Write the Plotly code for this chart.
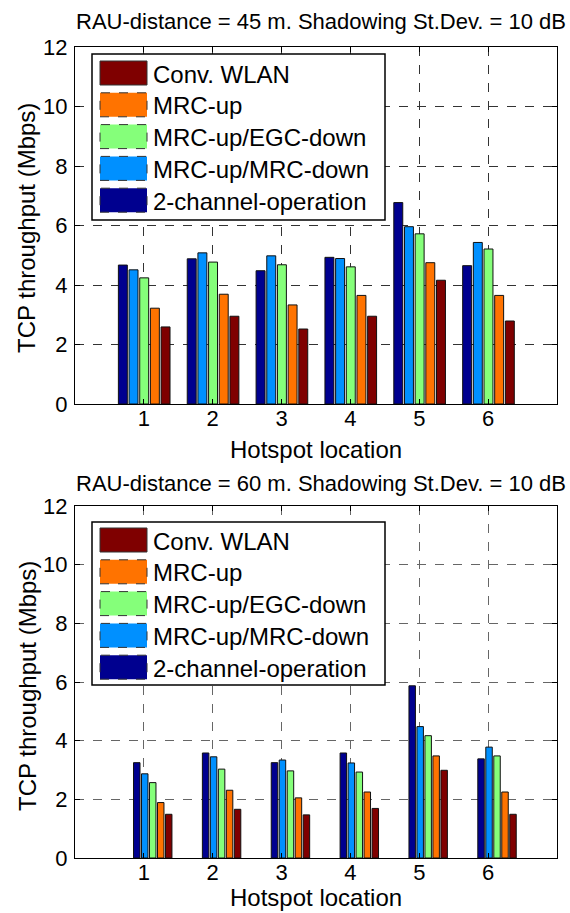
import plotly.graph_objects as go

W, H = 570, 913

locations = [1, 2, 3, 4, 5, 6]
tick_labels = ["1", "2", "3", "4", "5", "6"]

# series in plotting order (left to right within a group)
series_names = ["2-channel-operation", "MRC-up/MRC-down", "MRC-up/EGC-down", "MRC-up", "Conv. WLAN"]
series_colors = ["#00008F", "#0090FF", "#85FF7A", "#FF7300", "#7F0000"]

# RAU-distance = 45 m
two_ch_45 = [4.67, 4.88, 4.48, 4.93, 6.77, 4.65]
mrc_mrc_45 = [4.51, 5.08, 4.98, 4.89, 5.96, 5.43]
mrc_egc_45 = [4.24, 4.77, 4.68, 4.61, 5.72, 5.21]
mrc_up_45 = [3.22, 3.69, 3.33, 3.65, 4.75, 3.65]
conv_45 = [2.59, 2.95, 2.52, 2.95, 4.16, 2.79]

# RAU-distance = 60 m
two_ch_60 = [3.25, 3.58, 3.25, 3.58, 5.87, 3.38]
mrc_mrc_60 = [2.87, 3.45, 3.34, 3.24, 4.48, 3.78]
mrc_egc_60 = [2.57, 3.03, 2.97, 2.93, 4.17, 3.48]
mrc_up_60 = [1.89, 2.31, 2.05, 2.25, 3.48, 2.25]
conv_60 = [1.49, 1.66, 1.47, 1.69, 2.99, 1.49]

titles = ["RAU-distance = 45 m. Shadowing St.Dev. = 10 dB",
          "RAU-distance = 60 m. Shadowing St.Dev. = 10 dB"]
x_title = "Hotspot location"
y_title = "TCP throughput (Mbps)"
legend_order = ["Conv. WLAN", "MRC-up", "MRC-up/EGC-down", "MRC-up/MRC-down", "2-channel-operation"]

FONT = "Liberation Sans, Arial, sans-serif"


def px_x(p):
    return p / W


def px_y(p):
    return 1 - p / H


fig = go.Figure()

data_top = [two_ch_45, mrc_mrc_45, mrc_egc_45, mrc_up_45, conv_45]
data_bot = [two_ch_60, mrc_mrc_60, mrc_egc_60, mrc_up_60, conv_60]

for i, (name, col, vals) in enumerate(zip(series_names, series_colors, data_top)):
    fig.add_trace(go.Bar(x=locations, y=vals, name=name, marker=dict(color=col, line=dict(color="#111", width=1)),
                         offset=-0.37 + i * 0.155, width=0.13, xaxis="x", yaxis="y", showlegend=False))
for i, (name, col, vals) in enumerate(zip(series_names, series_colors, data_bot)):
    fig.add_trace(go.Bar(x=locations, y=vals, name=name, marker=dict(color=col, line=dict(color="#111", width=1)),
                         offset=-0.15 + i * 0.116, width=0.094, xaxis="x2", yaxis="y2", showlegend=False))

xdom = [px_x(75), px_x(557)]
top_dom = [px_y(404), px_y(47)]
bot_dom = [px_y(858), px_y(506)]


def xax(dom_anchor, gridcol):
    return dict(domain=xdom, anchor=dom_anchor, range=[0, 7], tickmode="array", tickvals=locations,
                ticktext=tick_labels, showline=True, linecolor="black", linewidth=1, mirror="ticks",
                ticks="inside", ticklen=5, tickcolor="black", showgrid=True, gridcolor=gridcol,
                griddash="dash", gridwidth=1, zeroline=False, automargin=False,
                tickfont=dict(family=FONT, size=22, color="black"), ticklabelstandoff=-5)


def yax(dom, anchor, gridcol):
    return dict(domain=dom, anchor=anchor, range=[0, 12], tickmode="array", tickvals=[0, 2, 4, 6, 8, 10, 12],
                showline=True, linecolor="black", linewidth=1, mirror="ticks", ticks="inside", ticklen=5,
                tickcolor="black", showgrid=True, gridcolor=gridcol, griddash="dash", gridwidth=1,
                zeroline=False, automargin=False, tickfont=dict(family=FONT, size=22, color="black"),
                ticklabelstandoff=2)


shapes = []
annotations = []

# titles / axis labels
for title, ty, xly, yly in [(titles[0], 22, 449, 228), (titles[1], 483, 897, 686)]:
    annotations.append(dict(text=title, x=px_x(321), y=px_y(ty), xref="paper", yref="paper", showarrow=False,
                            xanchor="center", yanchor="middle", font=dict(family=FONT, size=22, color="black")))
    annotations.append(dict(text=x_title, x=px_x(316), y=px_y(xly), xref="paper", yref="paper", showarrow=False,
                            xanchor="center", yanchor="middle", font=dict(family=FONT, size=24, color="black")))
    annotations.append(dict(text=y_title, x=px_x(27), y=px_y(yly), xref="paper", yref="paper", showarrow=False,
                            textangle=-90, xanchor="center", yanchor="middle",
                            font=dict(family=FONT, size=24, color="black")))

# custom legends (large swatches like the original)
legend_colors = {n: c for n, c in zip(series_names, series_colors)}
legend_dash = {"Conv. WLAN": "solid", "MRC-up": "dash", "MRC-up/EGC-down": "dash",
               "MRC-up/MRC-down": "dash", "2-channel-operation": "dash"}
for box_top, box_bot, first_row in [(54, 220, 73), (522, 685, 540)]:
    shapes.append(dict(type="rect", xref="paper", yref="paper", x0=px_x(92), x1=px_x(385),
                       y0=px_y(box_bot), y1=px_y(box_top), line=dict(color="black", width=1.5),
                       fillcolor="white", layer="above"))
    for k, name in enumerate(legend_order):
        cy = first_row + k * 31.8
        shapes.append(dict(type="rect", xref="paper", yref="paper", x0=px_x(100), x1=px_x(147),
                           y0=px_y(cy + 12), y1=px_y(cy - 12), fillcolor=legend_colors[name],
                           line=dict(color="#333", width=1, dash=legend_dash[name]), layer="above"))
        annotations.append(dict(text=name, x=px_x(151), y=px_y(cy + 1), xref="paper", yref="paper",
                                showarrow=False, xanchor="left", yanchor="middle",
                                font=dict(family=FONT, size=24, color="black")))

fig.update_layout(
    width=W, height=H, margin=dict(l=0, r=0, t=0, b=0),
    paper_bgcolor="white", plot_bgcolor="white", barmode="overlay",
    xaxis=xax("y", "#333"), yaxis=yax(top_dom, "x", "#333"),
    xaxis2=xax("y2", "#666"), yaxis2=yax(bot_dom, "x2", "#666"),
    shapes=shapes, annotations=annotations, showlegend=False,
)

fig.write_html("out.html")
